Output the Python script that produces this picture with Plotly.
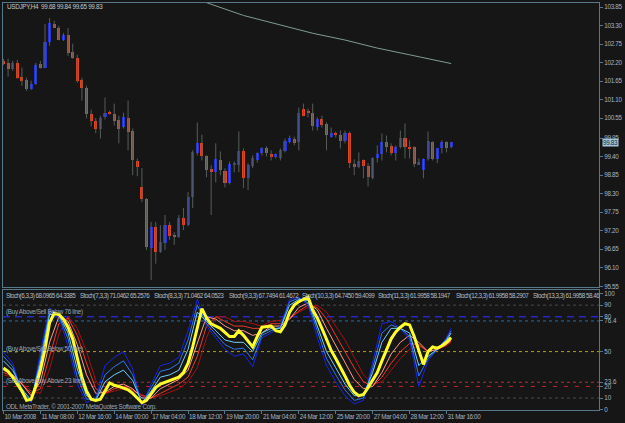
import plotly.graph_objects as go

# ---------------- data ----------------
opens = [102.25,102.19,102.02,102.19,101.78,101.69,101.42,101.57,102.16,102.05,
         102.81,103.35,103.23,102.87,103.02,102.52,102.34,101.69,101.45,100.68,
         100.45,100.24,100.57,100.71,100.68,100.48,100.27,100.54,100.18,99.26,
         98.49,98.14,96.69,97.31,96.57,96.84,97.37,97.08,97.02,97.58,
         97.37,98.20,99.50,99.80,99.41,99.03,98.94,99.29,98.97,98.61,
         99.18,99.15,99.56,98.76,99.12,99.29,99.50,99.65,99.47,99.38,
         99.35,99.56,99.83,99.94,99.83,100.83,100.74,100.71,100.27,100.51,
         100.36,99.98,100.12,100.06,99.86,100.12,99.18,99.09,99.29,99.12,
         98.76,99.35,99.47,99.83,99.71,99.50,99.68,99.97,99.68,99.68,
         99.18,99.00,99.32,99.83,99.32,99.65,99.83,99.68]
highs = [102.31,102.31,102.25,102.28,102.05,101.75,101.66,102.19,102.25,103.35,
         103.52,103.44,103.29,103.08,103.23,102.76,102.43,101.75,101.51,100.80,
         100.55,100.62,101.16,100.77,100.98,100.62,100.71,101.07,100.24,99.35,
         99.06,98.17,97.46,97.46,97.37,97.67,97.46,97.16,97.67,97.88,
         98.35,99.59,100.42,100.06,99.44,99.15,99.80,99.56,99.06,99.26,
         99.26,100.15,99.65,99.21,99.44,99.53,99.68,99.71,99.59,99.50,
         99.65,99.94,100.03,100.00,100.86,100.98,100.83,100.98,100.57,100.62,
         100.42,100.27,100.15,100.18,100.18,100.15,99.32,99.53,99.32,99.21,
         99.38,99.74,100.09,100.03,99.80,99.74,100.18,100.39,99.89,99.71,
         99.35,99.35,100.15,99.86,99.65,99.89,99.86,99.84]
lows = [102.13,101.78,101.96,101.72,101.51,101.36,101.39,101.54,102.02,102.04,
        102.70,103.23,102.86,102.84,102.40,102.31,101.60,101.07,100.54,100.30,
        100.10,99.94,100.51,100.65,100.33,99.80,100.24,99.59,98.85,98.82,
        98.05,96.63,95.74,96.22,96.54,96.63,96.93,96.78,96.99,97.22,
        97.34,97.88,99.44,99.29,98.79,97.67,98.64,98.85,98.49,98.58,
        98.94,98.94,98.47,98.41,99.06,99.23,99.44,99.41,99.29,99.35,
        99.29,99.53,99.80,99.74,99.59,100.60,100.57,100.18,100.18,100.27,
        99.59,99.97,99.97,99.65,99.80,99.06,98.85,99.06,98.76,98.52,
        98.73,99.23,99.29,99.53,99.44,99.29,99.65,99.35,99.35,99.09,
        99.15,98.76,99.29,99.29,99.21,99.50,99.53,99.65]
closes = [102.16,102.02,102.19,101.75,101.66,101.42,101.57,102.13,102.05,102.81,
          103.38,103.23,102.87,103.02,102.49,102.34,101.66,101.45,100.68,100.45,
          100.24,100.54,100.71,100.68,100.45,100.24,100.57,100.15,99.29,99.09,
          98.14,96.72,97.31,96.57,96.87,97.37,97.05,97.02,97.58,97.37,
          98.20,99.53,99.80,99.41,99.00,98.94,99.32,99.00,98.61,99.18,
          99.20,99.56,98.76,99.15,99.35,99.50,99.65,99.50,99.38,99.47,
          99.59,99.86,99.97,99.80,100.71,100.62,100.72,100.30,100.51,100.33,
          100.06,100.12,100.06,99.86,100.12,99.21,99.09,99.26,99.12,98.79,
          99.35,99.47,99.83,99.68,99.50,99.68,99.97,99.68,99.65,99.18,
          99.23,99.32,99.86,99.32,99.65,99.83,99.65,99.83]

ma_idx = [43, 44, 52, 60, 67, 74, 81, 88, 97]
ma_val = [104.02, 103.98, 103.60, 103.31, 103.07, 102.87, 102.63, 102.43, 102.17]

price_ticks = [103.85,103.30,102.75,102.20,101.65,101.10,100.55,99.95,99.40,
               98.85,98.30,97.75,97.20,96.65,96.10,95.55]
last_price = 99.83

time_idx = [0,8,16,24,32,40,48,56,64,72,80,88,96]
time_labels = ["10 Mar 2008","11 Mar 08:00","12 Mar 16:00","14 Mar 00:00",
               "17 Mar 04:00","18 Mar 12:00","19 Mar 20:00","21 Mar 04:00",
               "24 Mar 12:00","25 Mar 20:00","27 Mar 04:00","28 Mar 12:00",
               "31 Mar 16:00"]

yellow_idx = [0,1,2,4,5,6,7,8,9,10,11,12,13,14,15,16,17,18,19,20,21,22,23,24,25,
              27,28,29,30,31,32,33,34,36,38,39,40,41,42,43,44,45,47,49,50,51,52,
              53,54,55,56,58,59,60,61,62,63,64,66,67,68,69,70,71,72,73,74,75,76,
              77,78,79,80,81,82,83,84,85,86,87,88,89,90,91,92,93,94,95,96,97]
yellow_val = [36,33,28,16,8,9,20,34,52,75,83,82,78,71,61,44,28,16,9,8,9,16,23,21,20,
              17,14,10,6,8,14,19,22,25,28,32,40,54,72,87,79,74,70,63,63,68,64,
              59,54,63,71,72,68,67,73,84,90,93,97,86,79,70,61,51,44,37,29,21,15,
              12,13,19,25,32,42,51,61,67,71,74,73,63,50,39,50,54,53,55,58,62]

fan_idx = list(range(0, 97, 2)) + [97]
stoch_k_fast = [50,40,15,6,50,88,80,55,22,6,10,38,45,50,35,4,22,38,40,45,68,95,72,62,52,
                46,48,37,62,66,72,95,97,90,62,38,24,12,5,8,40,74,76,70,60,20,42,52,62,70]
stoch_k_mid = [46,37,16,7,44,85,81,61,28,9,9,30,37,42,30,5,19,33,35,40,60,90,74,65,56,
               52,53,43,64,68,71,93,96,92,67,44,30,17,8,10,36,66,73,70,63,29,44,52,61,68]
stoch_k_slow = [42,34,18,8,40,82,82,66,35,12,8,24,30,34,25,6,16,28,30,34,52,84,76,68,60,
                58,58,50,66,70,70,90,95,94,72,50,36,22,12,12,32,58,70,70,66,38,46,52,60,66]
stoch_d_fast = [34,30,22,12,24,58,80,76,56,30,14,15,20,22,18,10,10,18,22,26,34,58,80,78,72,
                68,68,64,66,72,72,78,88,92,86,70,55,40,26,18,20,32,48,58,64,58,50,52,56,60]
stoch_d_mid = [32,29,22,14,18,45,74,79,64,40,18,14,18,20,17,12,10,14,18,22,28,46,72,80,76,
               72,72,70,70,74,74,78,85,90,88,78,64,50,36,24,20,28,40,50,57,56,50,52,56,59]
stoch_d_slow = [30,28,23,16,14,35,65,80,70,50,25,14,16,18,16,13,10,12,15,18,24,36,62,80,80,
                76,76,74,72,76,77,80,84,88,90,84,72,60,45,30,22,24,34,44,52,55,50,52,55,58]

level_vals = [90, 80, 76.4, 50, 23.6, 20, 10]
level_ticks = [100, 90, 80, 76.4, 50, 23.6, 20, 10, 0]
level_tick_text = ["100", "90", "80", "76.4", "50", "23.6", "20", "10", "0"]

stoch_legend = ["Stoch(6,3,3) 68.0965 64.3385", "Stoch(7,3,3) 71.0462 65.2576",
                "Stoch(8,3,3) 71.0462 64.0523", "Stoch(9,3,3) 67.7494 61.4672",
                "Stoch(10,3,3) 64.7450 59.4099", "Stoch(11,3,3) 61.9958 58.1947",
                "Stoch(12,3,3) 61.9958 58.2907", "Stoch(13,3,3) 61.9958 58.46"]

# ---------------- layout constants ----------------
W, H = 625, 423
ML, MR, MT, MB = 3, 22, 2, 13
PLOT_TOP, PLOT_BOT = MT, H - MB      # 2 .. 410
MAIN_BOT_PX = 287
IND_TOP_PX = 290

def py(px):
    return (PLOT_BOT - px) / (PLOT_BOT - PLOT_TOP)

def pxx(px):
    return (px - ML) / (W - ML - MR)

def tight(s, sp=-0.45):
    return f"<span style='letter-spacing:{sp}px'>{s}</span>"

BG = "#161616"
AX = "#56788a"
TXT = "#a3b4c4"
FONT = "Liberation Sans, Arial"
FS = 6.3
XR = [-0.1, 129.04]

fig = go.Figure()

# wicks
n = len(opens)
wx, wy = [], []
for i in range(n):
    wx += [i, i, None]
    wy += [lows[i], highs[i], None]
fig.add_trace(go.Scatter(x=wx, y=wy, mode="lines", line=dict(color="#565e58", width=1),
                         xaxis="x", yaxis="y", hoverinfo="skip"))

# bodies
bases, heights, cols = [], [], []
for o, c in zip(opens, closes):
    lo, hi = min(o, c), max(o, c)
    bases.append(lo)
    heights.append(max(hi - lo, 0.03))
    cols.append("#2233dd" if c > o else "#e2441e")
fig.add_trace(go.Bar(x=list(range(n)), y=heights, base=bases, width=0.66,
                     marker=dict(color=cols, line=dict(width=0)),
                     xaxis="x", yaxis="y", hoverinfo="skip"))

# moving average
fig.add_trace(go.Scatter(x=ma_idx, y=ma_val, mode="lines",
                         line=dict(color="#7f9c94", width=1), xaxis="x", yaxis="y"))

# indicator fan
fan = [(stoch_d_slow, "#a81010"), (stoch_d_mid, "#ee3a26"), (stoch_d_fast, "#ff9c8c"),
       (stoch_k_fast, "#1626e6"), (stoch_k_mid, "#2f78f0"), (stoch_k_slow, "#6fd0ff")]
for vals, col in fan:
    fig.add_trace(go.Scatter(x=fan_idx, y=vals, mode="lines",
                             line=dict(color=col, width=1), xaxis="x2", yaxis="y2"))
fig.add_trace(go.Scatter(x=yellow_idx, y=yellow_val, mode="lines",
                         line=dict(color="#ffff2a", width=3), xaxis="x2", yaxis="y2"))

# level lines
level_styles = {90: ("#4b4b4b", "dot", 1), 80: ("#2727c8", "7px,5px", 1.5),
                76.4: ("#2b6ea6", "dot", 1), 50: ("#b4a21c", "dot", 1),
                23.6: ("#b03232", "dot", 1), 20: ("#c02626", "4px,7px", 1),
                10: ("#4b4b4b", "dot", 1)}
shapes = []
for lv in level_vals:
    col, dash, w = level_styles[lv]
    shapes.append(dict(type="line", xref="x2 domain", x0=0, x1=1, yref="y2", y0=lv, y1=lv,
                       line=dict(color=col, dash=dash, width=w), layer="below"))

ann = []
ann.append(dict(x=pxx(5), y=py(6), xref="paper", yref="paper", xanchor="left", yanchor="middle",
                text=tight("USDJPY,H4  99.68 99.84 99.65 99.83", -0.3), showarrow=False,
                font=dict(family=FONT, size=FS, color="#c4c8cc")))
leg_x = [4, 79, 153, 228, 302, 378, 457, 535]
for t, xx in zip(stoch_legend, leg_x):
    ann.append(dict(x=pxx(xx), y=py(296), xref="paper", yref="paper", xanchor="left",
                    yanchor="middle", text=tight(t, -0.5), showarrow=False,
                    font=dict(family=FONT, size=FS, color="#b4bcc4")))
for t, ypx in [("(Buy Above/Sell Below 76 line)", 312), ("(Buy Above/Sell Below 50 line)", 349),
               ("(Sell Above/Buy Above 23 line)", 381),
               ("ODL MetaTrader, © 2001-2007 MetaQuotes Software Corp.", 407)]:
    ann.append(dict(x=pxx(4), y=py(ypx), xref="paper", yref="paper", xanchor="left",
                    yanchor="middle", text=tight(t, -0.3), showarrow=False,
                    font=dict(family=FONT, size=FS, color="#9aa6b4")))
ann.append(dict(x=1, xref="paper", xanchor="left", xshift=3, y=last_price, yref="y",
                yanchor="middle", text=tight(f"{last_price:.2f}", -0.3), showarrow=False,
                bgcolor="#a2c6dc", borderpad=0,
                font=dict(family=FONT, size=FS, color="#1c2430")))

axis_common = dict(showgrid=False, zeroline=False, showline=True, mirror=True,
                   linecolor=AX, linewidth=1, tickcolor=AX,
                   tickfont=dict(family=FONT, size=FS, color=TXT))

fig.update_layout(
    width=W, height=H, margin=dict(l=ML, r=MR, t=MT, b=MB),
    paper_bgcolor=BG, plot_bgcolor=BG, showlegend=False, bargap=0,
    shapes=shapes, annotations=ann,
    xaxis=dict(domain=[0, 1], anchor="y", range=XR, showticklabels=False, ticks="", **axis_common),
    yaxis=dict(domain=[py(MAIN_BOT_PX), 1], anchor="x", range=[95.52, 103.97], side="right",
               tickvals=price_ticks, ticktext=[tight(f"{v:.2f}", -0.3) for v in price_ticks],
               ticks="outside", ticklen=3, **axis_common),
    xaxis2=dict(domain=[0, 1], anchor="y2", range=XR, tickvals=time_idx,
                ticktext=[tight(t, -0.35) for t in time_labels], tickangle=0,
                ticks="outside", ticklen=3, ticklabelposition="outside right", **axis_common),
    yaxis2=dict(domain=[0, py(IND_TOP_PX)], anchor="x2", range=[-0.3, 102.8], side="right",
                tickvals=level_ticks, ticktext=level_tick_text, ticks="outside", ticklen=3,
                **axis_common),
)

fig.write_html("out.html")
